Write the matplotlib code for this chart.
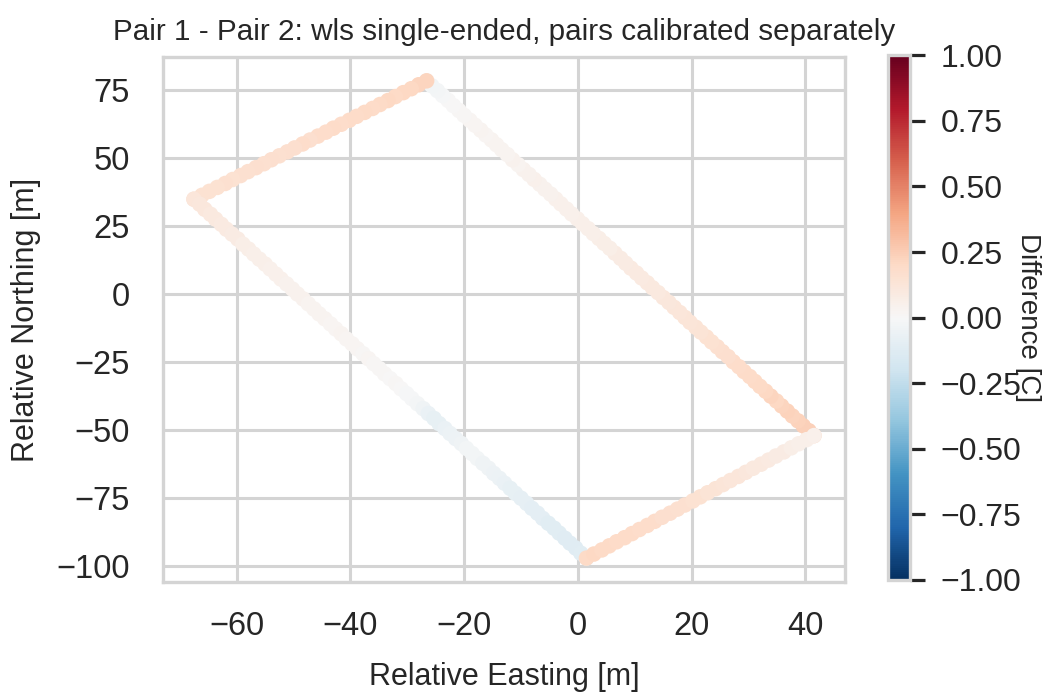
import matplotlib
matplotlib.use("Agg")
import matplotlib.pyplot as plt
import numpy as np

plt.rcParams['font.family'] = ['Liberation Sans', 'DejaVu Sans']
plt.rcParams['text.color'] = '0.15'
plt.rcParams['axes.labelcolor'] = '0.15'
plt.rcParams['xtick.color'] = '0.15'
plt.rcParams['ytick.color'] = '0.15'

# ---- data: cable positions (relative easting / northing [m]) and difference [C] ----
# segment 1: east corner -> north corner
seg1_x = [41.5, 40.6, 39.6, 38.7, 37.7, 36.8, 35.8, 34.9, 33.9, 33.0, 32.0, 31.1, 30.2,
          29.2, 28.3, 27.3, 26.4, 25.4, 24.5, 23.5, 22.6, 21.6, 20.7, 19.7, 18.8, 17.9,
          16.9, 16.0, 15.0, 14.1, 13.1, 12.2, 11.2, 10.3, 9.3, 8.4, 7.5, 6.5, 5.6, 4.6,
          3.7, 2.7, 1.8, 0.8, -0.1, -1.1, -2.0, -3.0, -3.9, -4.8, -5.8, -6.7, -7.7,
          -8.6, -9.6, -10.5, -11.5, -12.4, -13.4, -14.3, -15.2, -16.2, -17.1, -18.1,
          -19.0, -20.0, -20.9, -21.9, -22.8, -23.8, -24.7, -25.7, -26.6]
seg1_y = [-52.0, -50.2, -48.4, -46.6, -44.8, -43.0, -41.1, -39.3, -37.5, -35.7, -33.9,
          -32.1, -30.3, -28.5, -26.7, -24.9, -23.0, -21.2, -19.4, -17.6, -15.8, -14.0,
          -12.2, -10.4, -8.6, -6.8, -4.9, -3.1, -1.3, 0.5, 2.3, 4.1, 5.9, 7.7, 9.5, 11.3,
          13.1, 15.0, 16.8, 18.6, 20.4, 22.2, 24.0, 25.8, 27.6, 29.4, 31.2, 33.1, 34.9,
          36.7, 38.5, 40.3, 42.1, 43.9, 45.7, 47.5, 49.3, 51.2, 53.0, 54.8, 56.6, 58.4,
          60.2, 62.0, 63.8, 65.6, 67.4, 69.2, 71.1, 72.9, 74.7, 76.5, 78.3]
seg1_d = [0.23, 0.24, 0.24, 0.23, 0.22, 0.23, 0.22, 0.21, 0.22, 0.21,
          0.20, 0.20, 0.19, 0.19, 0.18, 0.18, 0.17, 0.17, 0.16, 0.15,
          0.15, 0.14, 0.14, 0.13, 0.13, 0.12, 0.12, 0.11, 0.11, 0.10,
          0.10, 0.10, 0.09, 0.09, 0.09, 0.08, 0.08, 0.08, 0.07, 0.07,
          0.07, 0.06, 0.06, 0.06, 0.06, 0.05, 0.05, 0.05, 0.05, 0.04,
          0.04, 0.04, 0.05, 0.04, 0.04, 0.03, 0.04, 0.03, 0.03, 0.03,
          0.03, 0.02, 0.03, 0.02, 0.02, 0.01, 0.01, 0.00, 0.00, -0.01,
          -0.02, -0.03, -0.03]

# segment 2: north corner -> west corner
seg2_x = [-26.6, -28.0, -29.3, -30.7, -32.1, -33.4, -34.8, -36.1, -37.5, -38.9, -40.2,
          -41.6, -43.0, -44.3, -45.7, -47.1, -48.4, -49.8, -51.1, -52.5, -53.9, -55.2,
          -56.6, -58.0, -59.3, -60.7, -62.0, -63.4, -64.8, -66.1, -67.5]
seg2_y = [78.3, 76.85, 75.4, 73.95, 72.5, 71.05, 69.6, 68.15, 66.7, 65.25, 63.8, 62.35,
          60.9, 59.45, 58.0, 56.55, 55.1, 53.65, 52.2, 50.75, 49.3, 47.85, 46.4, 44.95,
          43.5, 42.05, 40.6, 39.15, 37.7, 36.25, 34.8]
seg2_d = [0.22, 0.22, 0.21, 0.21, 0.20, 0.21, 0.20, 0.19, 0.20, 0.19, 0.19, 0.18,
          0.19, 0.18, 0.18, 0.17, 0.18, 0.17, 0.17, 0.16, 0.17, 0.16, 0.17, 0.16,
          0.16, 0.15, 0.16, 0.15, 0.15, 0.15, 0.14]

# segment 3: west corner -> south corner
seg3_x = [-67.5, -66.5, -65.6, -64.6, -63.7, -62.7, -61.8, -60.8, -59.8, -58.9, -57.9,
          -57.0, -56.0, -55.0, -54.1, -53.1, -52.2, -51.2, -50.2, -49.3, -48.3, -47.4,
          -46.4, -45.5, -44.5, -43.5, -42.6, -41.6, -40.7, -39.7, -38.8, -37.8, -36.8,
          -35.9, -34.9, -34.0, -33.0, -32.0, -31.1, -30.1, -29.2, -28.2, -27.2, -26.3,
          -25.3, -24.4, -23.4, -22.5, -21.5, -20.5, -19.6, -18.6, -17.7, -16.7, -15.7,
          -14.8, -13.8, -12.9, -11.9, -11.0, -10.0, -9.0, -8.1, -7.1, -6.2, -5.2, -4.2,
          -3.3, -2.3, -1.4, -0.4, 0.5, 1.5]
seg3_y = [34.8, 33.0, 31.1, 29.3, 27.5, 25.6, 23.8, 22.0, 20.2, 18.3, 16.5, 14.7, 12.8,
          11.0, 9.2, 7.3, 5.5, 3.7, 1.8, 0.0, -1.8, -3.6, -5.5, -7.3, -9.1, -11.0, -12.8,
          -14.6, -16.5, -18.3, -20.1, -21.9, -23.8, -25.6, -27.4, -29.3, -31.1, -32.9,
          -34.8, -36.6, -38.4, -40.3, -42.1, -43.9, -45.7, -47.6, -49.4, -51.2, -53.1,
          -54.9, -56.7, -58.6, -60.4, -62.2, -64.0, -65.9, -67.7, -69.5, -71.4, -73.2,
          -75.0, -76.9, -78.7, -80.5, -82.4, -84.2, -86.0, -87.8, -89.7, -91.5, -93.3,
          -95.2, -97.0]
seg3_d = [0.12, 0.11, 0.11, 0.10, 0.10, 0.09, 0.09, 0.08, 0.08, 0.07,
          0.07, 0.06, 0.06, 0.06, 0.05, 0.05, 0.05, 0.04, 0.04, 0.04,
          0.04, 0.03, 0.03, 0.03, 0.03, 0.02, 0.02, 0.03, 0.02, 0.02,
          0.02, 0.01, 0.02, 0.01, 0.01, 0.01, 0.00, 0.01, 0.00, -0.01,
          -0.01, -0.02, -0.04, -0.07, -0.08, -0.08, -0.07, -0.06, -0.05, -0.04,
          -0.03, -0.03, -0.03, -0.04, -0.04, -0.05, -0.06, -0.07, -0.08, -0.08,
          -0.09, -0.09, -0.10, -0.10, -0.10, -0.11, -0.11, -0.11, -0.12, -0.12,
          -0.12, -0.11, -0.11]

# segment 4: south corner -> east corner
seg4_x = [1.5, 2.8, 4.2, 5.5, 6.8, 8.2, 9.5, 10.8, 12.2, 13.5, 14.8, 16.2, 17.5, 18.8,
          20.2, 21.5, 22.8, 24.2, 25.5, 26.8, 28.2, 29.5, 30.8, 32.2, 33.5, 34.8, 36.2,
          37.5, 38.8, 40.2, 41.5]
seg4_y = [-97.0, -95.5, -94.0, -92.5, -91.0, -89.5, -88.0, -86.5, -85.0, -83.5, -82.0,
          -80.5, -79.0, -77.5, -76.0, -74.5, -73.0, -71.5, -70.0, -68.5, -67.0, -65.5,
          -64.0, -62.5, -61.0, -59.5, -58.0, -56.5, -55.0, -53.5, -52.0]
seg4_d = [0.20, 0.21, 0.20, 0.20, 0.19, 0.19, 0.19, 0.18, 0.18, 0.18, 0.17, 0.17,
          0.16, 0.16, 0.15, 0.15, 0.14, 0.14, 0.13, 0.12, 0.12, 0.11, 0.10, 0.10,
          0.09, 0.08, 0.08, 0.07, 0.06, 0.06, 0.05]

x_ticks = [-60, -40, -20, 0, 20, 40]
y_ticks = [-100, -75, -50, -25, 0, 25, 50, 75]
cbar_ticks = [-1.00, -0.75, -0.50, -0.25, 0.00, 0.25, 0.50, 0.75, 1.00]

easting = np.array(seg1_x + seg2_x + seg3_x + seg4_x)
northing = np.array(seg1_y + seg2_y + seg3_y + seg4_y)
diff = np.array(seg1_d + seg2_d + seg3_d + seg4_d)

fig = plt.figure(figsize=(10.48, 6.92), dpi=100)
ax = fig.add_axes([0.1555, 0.159, 0.6508, 0.7587])
cax = fig.add_axes([0.8475, 0.162, 0.021, 0.758])

grid_c = '#d4d4d4'
ax.set_facecolor('white')
ax.grid(True, color=grid_c, linewidth=2.2, zorder=0)
ax.set_axisbelow(True)
for sp in ax.spines.values():
    sp.set_color(grid_c)
    sp.set_linewidth(2.4)

sc = ax.scatter(easting, northing, c=diff, cmap='RdBu_r', vmin=-1, vmax=1,
                s=125, linewidths=0, zorder=3)

ax.set_xticks(x_ticks)
ax.set_yticks(y_ticks)
ax.tick_params(axis='both', length=0, labelsize=23.5)
ax.tick_params(axis='x', pad=21)
ax.tick_params(axis='y', pad=24)
ax.set_xlabel('Relative Easting [m]', fontsize=22, labelpad=14.5)
ax.set_ylabel('Relative Northing [m]', fontsize=22, labelpad=11)
ax.set_title('Pair 1 - Pair 2: wls single-ended, pairs calibrated separately',
             fontsize=21.3, pad=12)

cb = fig.colorbar(sc, cax=cax, ticks=cbar_ticks)
cb.outline.set_edgecolor(grid_c)
cb.outline.set_linewidth(2.4)
cb.ax.tick_params(length=11, width=2.3, color='0.15', labelsize=23, pad=11)
cb.ax.set_yticklabels([f'{t:.2f}'.replace('-', '\u2212') for t in cbar_ticks])
cb.set_label('Difference [C]', rotation=270, fontsize=20, labelpad=14)

fig.savefig('out.png', dpi=100)
